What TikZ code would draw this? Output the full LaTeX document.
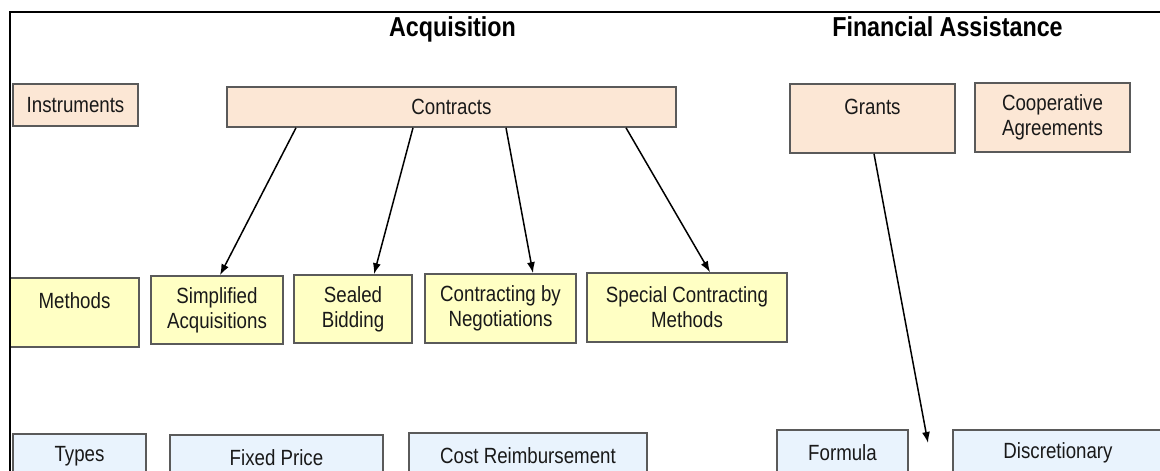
\documentclass[tikz,border=0pt]{standalone}
\usepackage{fontspec}
\setmainfont{Liberation Sans}[FakeStretch=0.85]
\usetikzlibrary{arrows.meta}
\definecolor{peach}{RGB}{252,231,213}
\definecolor{paleyellow}{RGB}{255,255,196}
\definecolor{paleblue}{RGB}{233,243,253}
\definecolor{edgegray}{RGB}{90,90,90}
\definecolor{inkgray}{RGB}{25,25,25}

\tikzset{
  cell/.style={draw=edgegray, line width=1.6pt, align=center, inner sep=0pt,
    text=inkgray, font=\fontsize{22}{25}\selectfont},
  instr/.style={cell, fill=peach},
  meth/.style={cell, fill=paleyellow},
  kind/.style={cell, fill=paleblue},
  topalign/.style={text height=30pt, text depth=38pt},
  heading/.style={font=\bfseries\fontsize{27.4}{30}\selectfont, anchor=base},
  flow/.style={-{Latex[length=11pt,width=8pt]}, line width=1.5pt}
}

\begin{document}
\begin{tikzpicture}[x=1pt, y=-1pt]
    \useasboundingbox (0,0) rectangle (1160,471);
    \clip (0,0) rectangle (1160,471);

    % Headings
    \node[heading] (acq) at (452.5,36) {Acquisition};
    \node[heading] (fin) at (947.5,36) {Financial Assistance};

    % Instruments row
    \node[instr, minimum width=125pt, minimum height=42pt] (instruments) at (75.5,105) {Instruments};
    \node[instr, minimum width=449pt, minimum height=40pt] (contracts) at (451.5,107) {Contracts};
    \node[instr, topalign, minimum width=165pt, minimum height=69pt] (grants) at (872.5,118.5) {Grants};
    \node[instr, minimum width=155pt, minimum height=69pt] (coop) at (1052.5,117.5) {Cooperative\\Agreements};

    % Methods row
    \node[meth, topalign, minimum width=129pt, minimum height=69pt] (methods) at (74.5,312.5) {Methods};
    \node[meth, minimum width=132pt, minimum height=68pt] (simplified) at (217,310) {Simplified\\Acquisitions};
    \node[meth, minimum width=118pt, minimum height=68pt] (sealed) at (353,309) {Sealed\\Bidding};
    \node[meth, minimum width=151pt, minimum height=69pt] (contracting) at (500.5,308.5) {Contracting by\\Negotiations};
    \node[meth, minimum width=200pt, minimum height=69pt] (special) at (687,307.5) {Special Contracting\\Methods};

    % Types row
    \node[kind, minimum width=133pt, minimum height=45pt] (types) at (79.5,456.5) {Types};
    \node[kind, minimum width=213pt, minimum height=45pt] (fixed) at (276.5,457.5) {Fixed Price};
    \node[kind, minimum width=238pt, minimum height=45pt] (cost) at (528,455.5) {Cost Reimbursement};
    \node[kind, minimum width=131pt, minimum height=46pt] (formula) at (842.5,453) {Formula};
    \node[kind, minimum width=210pt, minimum height=46pt] (discretionary) at (1058,453) {Discretionary};

    % Arrows from contracts to the methods
    \foreach \s/\t/\e in {-155.5/simplified/3, -38.5/sealed/21, 54.5/contracting/32.5, 174.5/special/23} {
        \draw[flow] ([xshift=\s pt]contracts.south) -- ([xshift=\e pt]\t.north);
    }

    % Arrow from grants
    \coordinate (grantsend) at (928,443);
    \draw[flow] ([xshift=1.5pt]grants.south) -- (grantsend);

    % Frame
    \draw[line width=2.5pt] (1160,12) -- (10,12) -- (10,471);

\end{tikzpicture}
\end{document}
